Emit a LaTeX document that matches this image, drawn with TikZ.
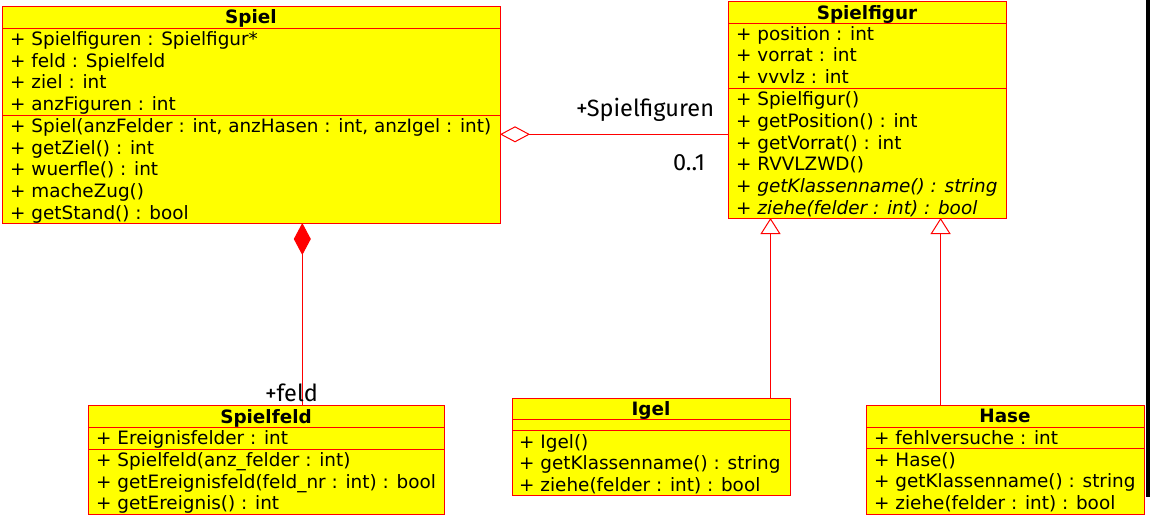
\documentclass[tikz,border=0pt]{standalone}
\usepackage{fontspec}
\setmainfont{DejaVu Sans}
\newfontfamily\labelfont{Fira Sans}
\usetikzlibrary{arrows.meta}
\definecolor{umlred}{HTML}{FF0000}
\definecolor{umlyel}{HTML}{FFFF00}
\begin{document}
\begin{tikzpicture}[x=1pt,y=-1pt,
  classbox/.style={draw=umlred, fill=umlyel, line width=1pt, rectangle, inner sep=0pt, outer sep=0pt, anchor=north west},
  sepline/.style={draw=umlred, line width=1pt},
  member/.style={anchor=base west, inner sep=0pt, font=\fontsize{18.4}{21.6}\selectfont},
  title/.style={anchor=base, inner sep=0pt, font=\fontsize{18.4}{21.6}\selectfont\bfseries},
  rel/.style={draw=umlred, line width=1pt},
  lbl/.style={anchor=base, inner sep=0pt, font=\labelfont\fontsize{23.5}{26}\selectfont}]
\useasboundingbox (0,0) rectangle (1150,516);
\fill[black] (1146,0) rectangle (1150,497);

% Spiel
\node[classbox, minimum width=498pt, minimum height=216pt] (spiel) at (2,7) {};
\draw[sepline] (2,29) -- (500,29);
\draw[sepline] (2,115.5) -- (500,115.5);
\node[title] (spielT) at (251,23.5) {Spiel};
\node[member] (s1) at (10,45.7) {+ Spielfiguren : Spielfigur*};
\node[member] (s2) at (10,67.3) {+ feld : Spielfeld};
\node[member] (s3) at (10,88.9) {+ ziel : int};
\node[member] (s4) at (10,110.5) {+ anzFiguren : int};
\node[member] (s5) at (10,132.6) {+ Spiel(anzFelder : int, anzHasen : int, anzIgel : int)};
\node[member] (s6) at (10,154.2) {+ getZiel() : int};
\node[member] (s7) at (10,175.8) {+ wuerfle() : int};
\node[member] (s8) at (10,197.4) {+ macheZug()};
\node[member] (s9) at (10,219.0) {+ getStand() : bool};

% Spielfigur
\node[classbox, minimum width=278pt, minimum height=216pt] (figur) at (728,2) {};
\draw[sepline] (728,23.7) -- (1006,23.7);
\draw[sepline] (728,88.3) -- (1006,88.3);
\node[title] (figurT) at (867,20) {Spielfigur};
\node[member] (f1) at (736,40.3) {+ position : int};
\node[member] (f2) at (736,61.9) {+ vorrat : int};
\node[member] (f3) at (736,83.5) {+ vvvlz : int};
\node[member] (f4) at (736,106.0) {+ Spielfigur()};
\node[member] (f5) at (736,127.6) {+ getPosition() : int};
\node[member] (f6) at (736,149.2) {+ getVorrat() : int};
\node[member] (f7) at (736,170.8) {+ RVVLZWD()};
\node[member] (f8) at (736,192.4) {+ \textit{getKlassenname() : string}};
\node[member] (f9) at (736,214.0) {+ \textit{ziehe(felder : int) : bool}};

% Spielfeld
\node[classbox, minimum width=356pt, minimum height=108.6pt] (feld) at (88,405.7) {};
\draw[sepline] (88,427.3) -- (444,427.3);
\draw[sepline] (88,449.3) -- (444,449.3);
\node[title] (feldT) at (266,423.3) {Spielfeld};
\node[member] (e1) at (96,444.6) {+ Ereignisfelder : int};
\node[member] (e2) at (96,466.6) {+ Spielfeld(anz\_felder : int)};
\node[member] (e3) at (96,488.2) {+ getEreignisfeld(feld\_nr : int) : bool};
\node[member] (e4) at (96,509.8) {+ getEreignis() : int};

% Igel
\node[classbox, minimum width=278pt, minimum height=97pt] (igel) at (512,398.3) {};
\draw[sepline] (512,419.7) -- (790,419.7);
\draw[sepline] (512,430.3) -- (790,430.3);
\node[title] (igelT) at (651,415) {Igel};
\node[member] (i1) at (519,448.3) {+ Igel()};
\node[member] (i2) at (519,469.9) {+ getKlassenname() : string};
\node[member] (i3) at (519,491.5) {+ ziehe(felder : int) : bool};

% Hase
\node[classbox, minimum width=278.5pt, minimum height=108.6pt] (hase) at (866,405.7) {};
\draw[sepline] (866,427.3) -- (1144.5,427.3);
\draw[sepline] (866,448.7) -- (1144.5,448.7);
\node[title] (haseT) at (1005,422.6) {Hase};
\node[member] (h1) at (874,444.3) {+ fehlversuche : int};
\node[member] (h2) at (874,466.0) {+ Hase()};
\node[member] (h3) at (874,487.6) {+ getKlassenname() : string};
\node[member] (h4) at (874,509.2) {+ ziehe(felder : int) : bool};

% relations
\draw[rel, {Diamond[fill=white, length=30pt, width=16pt]}-] (spiel.east |- 0,134.3) -- (figur.west |- 0,134.3);
\draw[rel, {Diamond[fill=umlred, length=32pt, width=17pt]}-] (spiel.south -| 302.3,0) -- (feld.north -| 302.3,0);
\draw[rel, -{Triangle[fill=white, length=16pt, width=20pt]}] (igel.north -| 770.5,0) -- (figur.south -| 770.5,0);
\draw[rel, -{Triangle[fill=white, length=16pt, width=20pt]}] (hase.north -| 940.6,0) -- (figur.south -| 940.6,0);

\node[lbl] (lagg) at (645,116.7) {+Spielfiguren};
\node[lbl] (lmult) at (689,170.7) {0..1};
\node[lbl] (lfeld) at (291.5,401.7) {+feld};
\end{tikzpicture}
\end{document}
